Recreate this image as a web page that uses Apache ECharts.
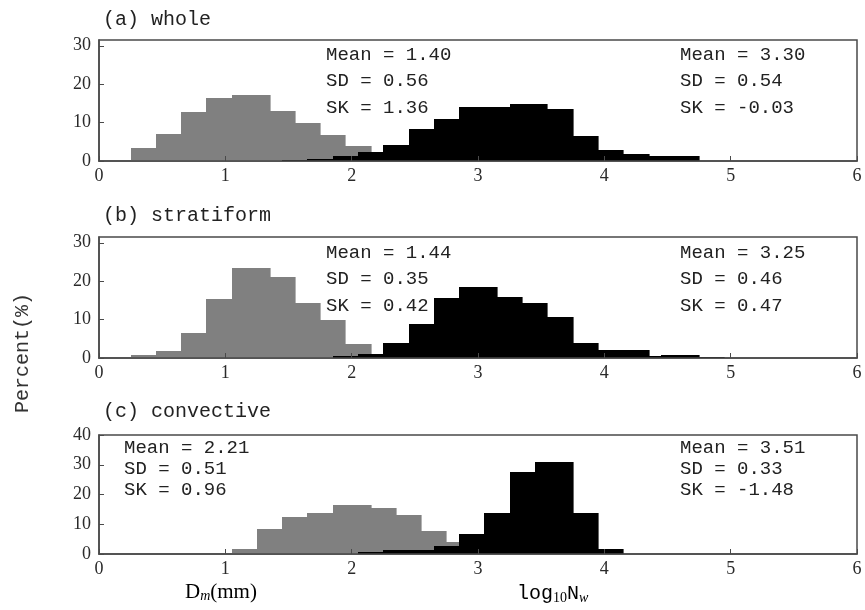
<!DOCTYPE html>
<html>
<head>
<meta charset="utf-8">
<script src="https://cdn.jsdelivr.net/npm/echarts@6/dist/echarts.min.js"></script>
<style>
  html, body { margin: 0; padding: 0; background: #fff; }
  #chart { width: 865px; height: 610px; }
</style>
</head>
<body>
<div id="chart"></div>
<script>
// Histogram bins: edges (x units) and percentages for each panel
const xTickValues = [0, 1, 2, 3, 4, 5, 6];

// (a) whole
const wholeDmEdges = [0.25, 0.45, 0.65, 0.85, 1.05, 1.35, 1.55, 1.75, 1.95, 2.15];
const wholeDmPct   = [3.2, 6.9, 12.7, 16.2, 17.0, 12.8, 9.8, 6.6, 3.9];
const wholeNwEdges = [1.45, 1.65, 1.85, 2.05, 2.25, 2.45, 2.65, 2.85, 3.25, 3.55, 3.75, 3.95, 4.15, 4.35, 4.75];
const wholeNwPct   = [0.2, 0.5, 1.2, 2.2, 4.1, 8.3, 10.7, 14.0, 14.6, 13.3, 6.5, 2.8, 1.8, 1.2];

// (b) stratiform
const stratDmEdges = [0.25, 0.45, 0.65, 0.85, 1.05, 1.35, 1.55, 1.75, 1.95, 2.15];
const stratDmPct   = [0.7, 1.75, 6.5, 15.3, 23.2, 21.0, 14.2, 9.7, 3.6];
const stratNwEdges = [1.85, 2.05, 2.25, 2.45, 2.65, 2.85, 3.15, 3.35, 3.55, 3.75, 3.95, 4.35, 4.45, 4.75, 4.95];
const stratNwPct   = [0.3, 1.0, 3.9, 8.7, 15.4, 18.3, 15.8, 14.1, 10.6, 3.9, 2.0, 0.3, 0.6, 0.2];

// (c) convective
const convDmEdges = [1.05, 1.25, 1.45, 1.65, 1.85, 2.15, 2.35, 2.55, 2.75, 2.95];
const convDmPct   = [1.6, 8.1, 12.4, 13.7, 16.2, 15.4, 13.1, 7.5, 3.9];
const convNwEdges = [2.05, 2.25, 2.65, 2.85, 3.05, 3.25, 3.45, 3.75, 3.95, 4.15];
const convNwPct   = [0.4, 1.1, 2.4, 6.7, 13.7, 27.4, 30.6, 13.5, 1.6];

// Statistics annotations
const panelTitles = ['(a) whole', '(b) stratiform', '(c) convective'];
const dmStats = [['1.40', '0.56', '1.36'], ['1.44', '0.35', '0.42'], ['2.21', '0.51', '0.96']];
const nwStats = [['3.30', '0.54', '-0.03'], ['3.25', '0.46', '0.47'], ['3.51', '0.33', '-1.48']];

const GRAY = '#808080';
const BLACK = '#000000';
const FRAME = '#4a4a4a';
const MONO = '"Liberation Mono", "DejaVu Sans Mono", monospace';
const SERIF = '"Liberation Serif", "DejaVu Serif", serif';

function toBins(edges, pct) {
  return pct.map((v, i) => [edges[i], edges[i + 1], v]);
}

function histSeries(idx, edges, pct, color) {
  return {
    type: 'custom',
    xAxisIndex: idx,
    yAxisIndex: idx,
    clip: true,
    encode: { x: [0, 1], y: 2 },
    data: toBins(edges, pct),
    renderItem: function (params, api) {
      const top = api.coord([api.value(0), api.value(2)]);
      const base = api.coord([api.value(1), 0]);
      // snap to whole pixels so adjacent bins join without seams
      const x0 = Math.round(top[0]);
      const x1 = Math.round(base[0]);
      const y0 = Math.floor(top[1]);
      const y1 = base[1];
      return {
        type: 'rect',
        shape: { x: x0, y: y0, width: x1 - x0 + 0.6, height: y1 - y0 },
        style: { fill: color, stroke: null }
      };
    }
  };
}

const grids = [
  { left: 99, right: 8, top: 40, height: 121 },
  { left: 99, right: 8, top: 237, height: 121 },
  { left: 99, right: 8, top: 435, height: 119 }
].map(g => Object.assign({ show: true, borderColor: FRAME, borderWidth: 1.5, backgroundColor: 'transparent' }, g));

const xAxes = [0, 1, 2].map(i => ({
  gridIndex: i,
  type: 'value',
  min: xTickValues[0],
  max: xTickValues[xTickValues.length - 1],
  interval: 1,
  axisLine: { show: true, lineStyle: { color: FRAME, width: 1.5 } },
  axisTick: { show: true, inside: true, length: 5, lineStyle: { color: FRAME } },
  axisLabel: { color: '#2a2a2a', fontFamily: SERIF, fontSize: 18, margin: 6 },
  splitLine: { show: false },
  z: 5
}));

const yMax = [31.5, 31.5, 40];
const yAxes = [0, 1, 2].map(i => ({
  gridIndex: i,
  type: 'value',
  min: 0,
  max: yMax[i],
  interval: 10,
  axisLine: { show: true, lineStyle: { color: FRAME, width: 1.5 } },
  axisTick: { show: true, inside: true, length: 5, lineStyle: { color: FRAME } },
  axisLabel: { color: '#2a2a2a', fontFamily: SERIF, fontSize: 18, margin: 8, showMaxLabel: i === 2 },
  splitLine: { show: false },
  z: 5
}));

const graphics = [];
const titleY = [10, 206, 402];
panelTitles.forEach((t, i) => {
  graphics.push({ type: 'text', left: 103, top: titleY[i],
    style: { text: t, font: '20px ' + MONO, fill: '#222' } });
});

// stats blocks: [x, first line top, line step]
const dmPos = [[326, 45, 26.5], [326, 243, 26.5], [124, 438, 21]];
const nwPos = [[680, 45, 26.5], [680, 243, 26.5], [680, 438, 21]];
function statBlock(pos, s) {
  const lines = ['Mean = ' + s[0], 'SD = ' + s[1], 'SK = ' + s[2]];
  lines.forEach((ln, k) => {
    graphics.push({ type: 'text', left: pos[0], top: pos[1] + k * pos[2],
      style: { text: ln, font: '19px ' + MONO, fill: '#222' } });
  });
}
dmStats.forEach((s, i) => statBlock(dmPos[i], s));
nwStats.forEach((s, i) => statBlock(nwPos[i], s));

// y-axis name
graphics.push({ type: 'text', x: 23, y: 353, rotation: Math.PI / 2,
  style: { text: 'Percent(%)', font: '20px ' + MONO, fill: '#333', align: 'center', verticalAlign: 'middle' } });

// x-axis names
graphics.push({ type: 'text', left: 185, top: 582,
  style: {
    text: '{a|D}{s|m}{a|(mm)}',
    rich: {
      a: { fontFamily: SERIF, fontSize: 21, color: '#222' },
      s: { fontFamily: SERIF, fontSize: 14, fontStyle: 'italic', color: '#222', padding: [8, 0, 0, 0] }
    }
  } });
graphics.push({ type: 'text', left: 517, top: 584,
  style: {
    text: '{a|log}{s|10}{a|N}{w|w}',
    rich: {
      a: { fontFamily: MONO, fontSize: 20, color: '#222' },
      s: { fontFamily: SERIF, fontSize: 14, color: '#222', padding: [8, 0, 0, 0] },
      w: { fontFamily: SERIF, fontSize: 14, fontStyle: 'italic', color: '#222', padding: [8, 0, 0, 0] }
    }
  } });

const chart = echarts.init(document.getElementById('chart'), null, { renderer: 'canvas' });
chart.setOption({
  animation: false,
  backgroundColor: '#fff',
  grid: grids,
  xAxis: xAxes,
  yAxis: yAxes,
  series: [
    histSeries(0, wholeDmEdges, wholeDmPct, GRAY),
    histSeries(0, wholeNwEdges, wholeNwPct, BLACK),
    histSeries(1, stratDmEdges, stratDmPct, GRAY),
    histSeries(1, stratNwEdges, stratNwPct, BLACK),
    histSeries(2, convDmEdges, convDmPct, GRAY),
    histSeries(2, convNwEdges, convNwPct, BLACK)
  ],
  graphic: graphics
});
</script>
</body>
</html>
